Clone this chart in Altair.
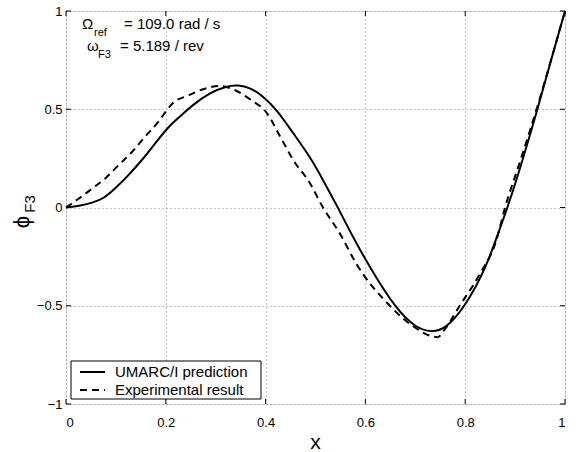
import altair as alt
import pandas as pd

# ---- data ----
x_pred = [0.0, 0.026, 0.053, 0.076, 0.099, 0.126, 0.153, 0.179, 0.206, 0.222, 0.255,
          0.289, 0.322, 0.345, 0.369, 0.395, 0.422, 0.455, 0.489, 0.515, 0.545, 0.575,
          0.609, 0.662, 0.702, 0.732, 0.759, 0.799, 0.842, 0.868, 0.885, 0.915, 0.945,
          0.972, 1.0]
y_pred = [0.0, 0.007, 0.024, 0.046, 0.097, 0.166, 0.243, 0.328, 0.413, 0.448, 0.525,
          0.585, 0.618, 0.624, 0.61, 0.567, 0.499, 0.379, 0.259, 0.14, 0.0, -0.151,
          -0.305, -0.52, -0.614, -0.634, -0.622, -0.508, -0.306, -0.117, 0.0, 0.24, 0.5,
          0.75, 1.0]

x_exp = [0.0, 0.026, 0.053, 0.079, 0.106, 0.133, 0.159, 0.186, 0.202, 0.215, 0.242,
         0.275, 0.309, 0.342, 0.369, 0.402, 0.429, 0.455, 0.489, 0.515, 0.549, 0.582,
         0.649, 0.695, 0.745, 0.759, 0.789, 0.829, 0.862, 0.88, 0.912, 0.943, 0.972, 1.0]
y_exp = [0.0, 0.046, 0.097, 0.149, 0.217, 0.285, 0.362, 0.439, 0.495, 0.533, 0.567,
         0.602, 0.618, 0.593, 0.55, 0.482, 0.362, 0.243, 0.123, 0.0, -0.133, -0.287,
         -0.5, -0.603, -0.66, -0.62, -0.5, -0.34, -0.17, 0.0, 0.25, 0.5, 0.75, 1.0]

series_names = ["UMARC/I prediction", "Experimental result"]
x_ticks = [0, 0.2, 0.4, 0.6, 0.8, 1]
y_ticks = [-1, -0.5, 0, 0.5, 1]
line1_parts = ["\u03a9", "ref", "= 109.0 rad / s"]
line2_parts = ["\u03c9", "F3", "= 5.189 / rev"]
x_title = "x"
y_title_parts = ["\u03d5", "F3"]

W, H = 499, 393
FONT = "Liberation Sans"
GRID = "#8c8c8c"

df_pred = pd.DataFrame({"x": x_pred, "y": y_pred})
df_exp = pd.DataFrame({"x": x_exp, "y": y_exp})

xs = alt.Scale(domain=[0, 1], nice=False, zero=False)
ys = alt.Scale(domain=[-1, 1], nice=False, zero=False)

x_axis = alt.Axis(values=x_ticks, format="~g", title=None, grid=True, ticks=False,
                  domain=False, labelPadding=12, labelFontSize=13, labelFont=FONT,
                  labelColor="black", gridColor=GRID, gridDash=[1, 3], gridWidth=1)
y_axis = alt.Axis(values=y_ticks, format="~g", title=None, grid=True, ticks=False,
                  domain=False, labelPadding=4, labelFontSize=13, labelFont=FONT,
                  labelColor="black", gridColor=GRID, gridDash=[1, 3], gridWidth=1)

pred = alt.Chart(df_pred).mark_line(color="black", strokeWidth=2, interpolate="basis").encode(
    x=alt.X("x:Q", scale=xs, axis=x_axis),
    y=alt.Y("y:Q", scale=ys, axis=y_axis),
)
exp = alt.Chart(df_exp).mark_line(color="black", strokeWidth=2, strokeDash=[7, 5],
                                  interpolate="monotone").encode(
    x=alt.X("x:Q", scale=xs),
    y=alt.Y("y:Q", scale=ys),
)

# inside ticks (MATLAB style)
dx = pd.DataFrame({"t": x_ticks})
dy = pd.DataFrame({"t": y_ticks})
tick_style = dict(color="black", strokeWidth=1)
xt_bot = alt.Chart(dx).mark_rule(**tick_style).encode(
    x=alt.X("t:Q", scale=xs), y=alt.value(H), y2=alt.value(H - 5))
xt_top = alt.Chart(dx).mark_rule(**tick_style).encode(
    x=alt.X("t:Q", scale=xs), y=alt.value(0), y2=alt.value(5))
yt_left = alt.Chart(dy).mark_rule(**tick_style).encode(
    y=alt.Y("t:Q", scale=ys), x=alt.value(0), x2=alt.value(5))
yt_right = alt.Chart(dy).mark_rule(**tick_style).encode(
    y=alt.Y("t:Q", scale=ys), x=alt.value(W - 5), x2=alt.value(W))


def txt(s, x, y, size, align="left", baseline="alphabetic", angle=0):
    kw = dict(align=align, baseline=baseline, fontSize=size, font=FONT, color="black")
    if angle:
        kw["angle"] = angle
    return alt.Chart(pd.DataFrame({"s": [s]})).mark_text(**kw).encode(
        text="s:N", x=alt.value(x), y=alt.value(y))


annots = [
    txt(line1_parts[0], 16, 18, 15),
    txt(line1_parts[1], 28, 25, 11),
    txt(line1_parts[2], 58, 18, 15),
    txt(line2_parts[0], 21, 40, 15),
    txt(line2_parts[1], 32, 47, 11),
    txt(line2_parts[2], 54, 40, 15),
    txt(x_title, W / 2, 438, 21, align="center"),
    txt(y_title_parts[0], -44, 211, 22, align="center", baseline="middle", angle=270),
    txt(y_title_parts[1], -36, 193, 15, align="center", baseline="middle", angle=270),
]

# legend box
legend_box = alt.Chart(pd.DataFrame({"a": [0]})).mark_rect(
    fill="white", stroke="black", strokeWidth=1).encode(
    x=alt.value(5), x2=alt.value(195), y=alt.value(350), y2=alt.value(388))
leg1 = alt.Chart(pd.DataFrame({"a": [0]})).mark_rule(color="black", strokeWidth=2).encode(
    x=alt.value(14), x2=alt.value(39), y=alt.value(361))
leg2 = alt.Chart(pd.DataFrame({"a": [0]})).mark_rule(
    color="black", strokeWidth=2, strokeDash=[7, 5]).encode(
    x=alt.value(14), x2=alt.value(39), y=alt.value(379))
legt1 = txt(series_names[0], 49, 361, 15, baseline="middle")
legt2 = txt(series_names[1], 49, 379, 15, baseline="middle")

chart = alt.layer(
    pred, exp, xt_bot, xt_top, yt_left, yt_right,
    legend_box, leg1, leg2, legt1, legt2, *annots
).properties(
    width=W, height=H,
    autosize=alt.AutoSizeParams(type="none"),
    padding={"left": 66, "top": 11, "right": 12, "bottom": 48},
).configure_view(
    stroke="black", strokeWidth=1
).configure(background="white")

chart.save("out.html", embed_options={"renderer": "svg", "actions": False})
